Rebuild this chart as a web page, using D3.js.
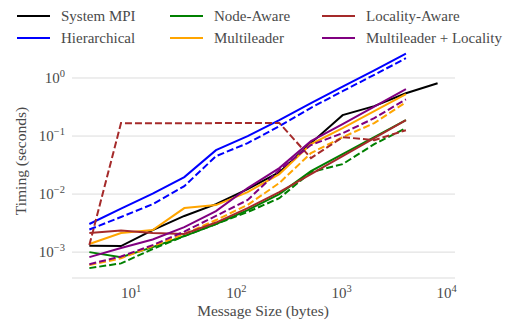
<!DOCTYPE html>
<html>
<head>
<meta charset="utf-8">
<script src="https://cdn.jsdelivr.net/npm/d3@7"></script>
<style>
  body { margin: 0; background: #fff; }
</style>
</head>
<body>
<script>
(function () {
  // message sizes (bytes)
  var sizes = [4, 8, 16, 32, 64, 128, 256, 512, 1024, 2048, 4096, 8192];

  // timings (seconds)
  var systemMPI      = [0.00129, 0.00127, 0.0024, 0.0042, 0.0067, 0.0122, 0.0239, 0.0755, 0.229, 0.327, 0.547, 0.81];
  var hierarchical   = [0.00305, 0.0056, 0.0102, 0.0196, 0.0572, 0.0996, 0.188, 0.368, 0.708, 1.35, 2.62];
  var hierarchicalB  = [0.00245, 0.00402, 0.0067, 0.0137, 0.045, 0.0755, 0.148, 0.307, 0.593, 1.135, 2.19];
  var nodeAware      = [0.001, 0.00082, 0.00122, 0.00189, 0.00305, 0.0053, 0.01, 0.0249, 0.0488, 0.0957, 0.188];
  var nodeAwareB     = [0.00053, 0.00064, 0.00113, 0.00189, 0.00305, 0.0049, 0.0085, 0.0239, 0.0328, 0.0726, 0.137];
  var multileader    = [0.00138, 0.00213, 0.0024, 0.00574, 0.00647, 0.0108, 0.0221, 0.0726, 0.137, 0.268, 0.527];
  var multileaderB   = [0.0006, 0.00078, 0.00127, 0.00205, 0.00357, 0.0065, 0.0155, 0.0508, 0.0957, 0.167, 0.383];
  var localityAware  = [0.00213, 0.00235, 0.00213, 0.00205, 0.00323, 0.00574, 0.0108, 0.0221, 0.045, 0.092, 0.188];
  var localityAwareB = [0.00132, 0.167, 0.166, 0.166, 0.167, 0.167, 0.168, 0.0417, 0.0957, 0.085, 0.126];
  var mlLocality     = [0.00082, 0.00118, 0.00165, 0.0027, 0.0051, 0.0127, 0.028, 0.0817, 0.16, 0.32, 0.64];
  var mlLocalityB    = [0.00062, 0.00084, 0.00132, 0.00226, 0.0042, 0.0079, 0.0259, 0.07, 0.112, 0.203, 0.43];

  var xTicks = [10, 100, 1000, 10000];
  var yTicks = [1, 0.1, 0.01, 0.001];

  var series = [
    { name: "System MPI", color: "black", v: systemMPI, dash: false },
    { name: "Hierarchical", color: "blue", v: hierarchical, dash: false },
    { name: null, color: "blue", v: hierarchicalB, dash: true },
    { name: "Node-Aware", color: "green", v: nodeAware, dash: false },
    { name: null, color: "green", v: nodeAwareB, dash: true },
    { name: "Multileader", color: "orange", v: multileader, dash: false },
    { name: null, color: "orange", v: multileaderB, dash: true },
    { name: "Locality-Aware", color: "brown", v: localityAware, dash: false },
    { name: null, color: "brown", v: localityAwareB, dash: true },
    { name: "Multileader + Locality", color: "purple", v: mlLocality, dash: false },
    { name: null, color: "purple", v: mlLocalityB, dash: true }
  ];

  var W = 511, H = 322;
  var left = 72, right = 455, top = 43, bottom = 278;
  var FONT = "'Liberation Serif', 'Times New Roman', serif";

  var svg = d3.select("body").append("svg")
    .attr("width", W)
    .attr("height", H)
    .style("font-family", FONT);

  var x = d3.scaleLog().domain([Math.pow(10, 0.437), Math.pow(10, 4.079)]).range([left, right]);
  var y = d3.scaleLog().domain([Math.pow(10, -3.446), Math.pow(10, 0.603)]).range([bottom, top]);

  // grid
  svg.append("g").selectAll("line")
    .data(yTicks)
    .enter().append("line")
    .attr("x1", left).attr("x2", right)
    .attr("y1", function (d) { return y(d); })
    .attr("y2", function (d) { return y(d); })
    .style("stroke", "#dcdcdc")
    .style("stroke-width", 1);

  svg.append("line")
    .attr("x1", left).attr("x2", right)
    .attr("y1", bottom).attr("y2", bottom)
    .style("stroke", "#dcdcdc")
    .style("stroke-width", 1.2);

  var exp = function (d) { return Math.round(Math.log10(d)); };

  var txt = function (sel, size) {
    return sel.style("font-family", FONT).style("font-size", size + "px").style("fill", "#4a4a4a");
  };

  // y tick labels
  var yl = txt(svg.append("g").selectAll("text")
    .data(yTicks)
    .enter().append("text")
    .attr("x", 65)
    .attr("y", function (d) { return y(d) + 5; })
    .attr("text-anchor", "end"), 15);
  yl.append("tspan").text("10");
  yl.append("tspan").attr("dy", -6).style("font-size", "10.5px")
    .text(function (d) { var e = exp(d); return e < 0 ? "\u2212" + (-e) : e; });

  // x tick labels
  var xl = txt(svg.append("g").selectAll("text")
    .data(xTicks)
    .enter().append("text")
    .attr("x", function (d) { return x(d); })
    .attr("y", 298)
    .attr("text-anchor", "middle"), 15);
  xl.append("tspan").text("10");
  xl.append("tspan").attr("dy", -6).style("font-size", "10.5px")
    .text(function (d) { return exp(d); });

  txt(svg.append("text")
    .attr("x", 263).attr("y", 316)
    .attr("text-anchor", "middle"), 15.5)
    .text("Message Size (bytes)");

  txt(svg.append("text")
    .attr("transform", "translate(26,161) rotate(-90)")
    .attr("text-anchor", "middle"), 15.5)
    .text("Timing (seconds)");

  // lines
  var line = d3.line()
    .x(function (d, i) { return x(sizes[i]); })
    .y(function (d) { return y(d); });

  svg.append("g").selectAll("path")
    .data(series)
    .enter().append("path")
    .attr("d", function (d) { return line(d.v); })
    .style("fill", "none")
    .style("stroke", function (d) { return d.color; })
    .style("stroke-width", 2)
    .style("stroke-dasharray", function (d) { return d.dash ? "7,3" : null; });

  // legend
  var named = series.filter(function (d) { return d.name; });
  var colX = [17, 170, 322];
  var rowY = [16, 38];
  var lg = svg.append("g").selectAll("g")
    .data(named)
    .enter().append("g")
    .attr("transform", function (d, i) {
      return "translate(" + colX[Math.floor(i / 2)] + "," + rowY[i % 2] + ")";
    });
  lg.append("line")
    .attr("x1", 0).attr("x2", 33)
    .style("stroke", function (d) { return d.color; })
    .style("stroke-width", 2);
  txt(lg.append("text")
    .attr("x", 44).attr("y", 5), 15)
    .text(function (d) { return d.name; });
})();
</script>
</body>
</html>
